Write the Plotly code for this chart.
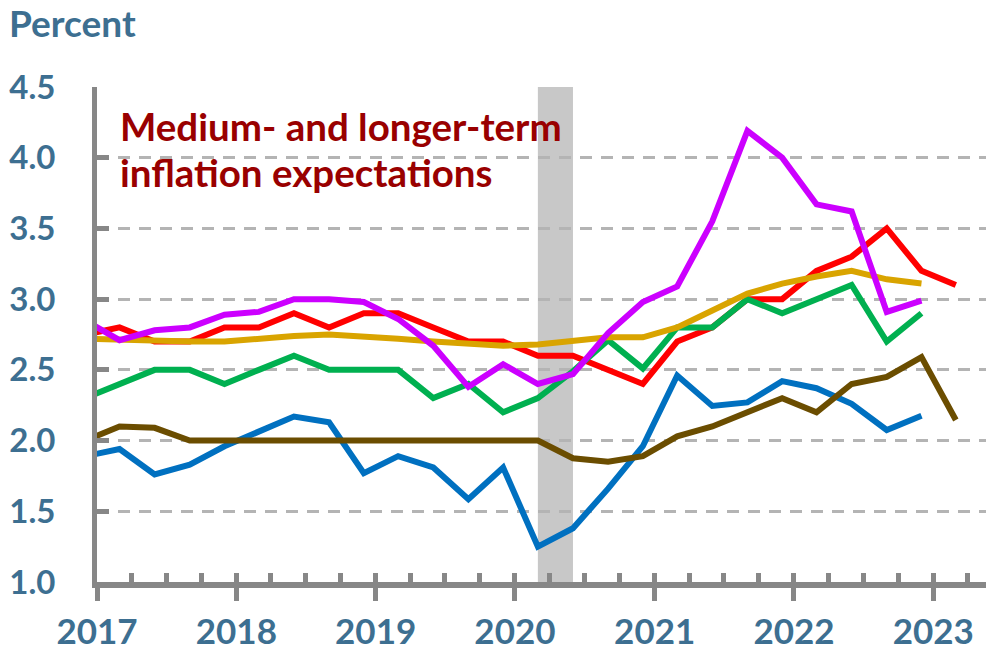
import plotly.graph_objects as go

# Quarterly observations (plotted at Mar, Jun, Sep, Dec), Dec 2016 .. Mar 2023
dates = ["2016-12-01",
         "2017-03-01", "2017-06-01", "2017-09-01", "2017-12-01",
         "2018-03-01", "2018-06-01", "2018-09-01", "2018-12-01",
         "2019-03-01", "2019-06-01", "2019-09-01", "2019-12-01",
         "2020-03-01", "2020-06-01", "2020-09-01", "2020-12-01",
         "2021-03-01", "2021-06-01", "2021-09-01", "2021-12-01",
         "2022-03-01", "2022-06-01", "2022-09-01", "2022-12-01",
         "2023-03-01"]

red = [2.75, 2.80, 2.70, 2.70, 2.80, 2.80, 2.90, 2.80, 2.90, 2.90, 2.80, 2.70, 2.70,
       2.60, 2.60, 2.50, 2.40, 2.70, 2.80, 3.00, 3.00, 3.20, 3.30, 3.50, 3.20, 3.10]
green = [2.30, 2.40, 2.50, 2.50, 2.40, 2.50, 2.60, 2.50, 2.50, 2.50, 2.30, 2.40, 2.20,
         2.30, 2.49, 2.71, 2.51, 2.80, 2.80, 3.00, 2.90, 3.00, 3.10, 2.70, 2.90]
gold = [2.72, 2.71, 2.70, 2.70, 2.70, 2.72, 2.74, 2.75, 2.74, 2.72, 2.70, 2.69, 2.67,
        2.68, 2.71, 2.73, 2.73, 2.80, 2.92, 3.04, 3.11, 3.16, 3.20, 3.14, 3.11]
blue = [1.89, 1.94, 1.76, 1.83, 1.96, 2.06, 2.17, 2.13, 1.77, 1.89, 1.81, 1.585, 1.81,
        1.25, 1.38, 1.66, 1.96, 2.46, 2.245, 2.27, 2.42, 2.37, 2.26, 2.075, 2.175]
brown = [2.00, 2.10, 2.09, 2.00, 2.00, 2.00, 2.00, 2.00, 2.01, 2.00, 2.00, 2.00, 2.00,
         2.00, 1.875, 1.85, 1.89, 2.03, 2.10, 2.20, 2.30, 2.20, 2.40, 2.45, 2.59, 2.145]
magenta = [2.85, 2.71, 2.78, 2.80, 2.89, 2.91, 3.00, 3.00, 2.98, 2.86, 2.67, 2.38, 2.54,
           2.40, 2.47, 2.76, 2.98, 3.09, 3.55, 4.19, 4.00, 3.67, 3.62, 2.91, 2.99]

year_ticks = ["2017-01-01", "2018-01-01", "2019-01-01", "2020-01-01",
              "2021-01-01", "2022-01-01", "2023-01-01"]
year_labels = ["2017", "2018", "2019", "2020", "2021", "2022", "2023"]
y_ticks = [1.0, 1.5, 2.0, 2.5, 3.0, 3.5, 4.0, 4.5]
y_labels = ["1.0", "1.5", "2.0", "2.5", "3.0", "3.5", "4.0", "4.5"]
recession = ["2020-03-01", "2020-06-01"]

LBL = "#3D6F91"
AX = "#878787"
FONT = "Lato"

series = [
    (red, "#FF0000"),
    (green, "#00B050"),
    (gold, "#D9A400"),
    (blue, "#0070C0"),
    (brown, "#6B4D00"),
    (magenta, "#CC00FF"),
]

fig = go.Figure()
for vals, col in series:
    fig.add_trace(go.Scatter(x=dates[:len(vals)], y=vals, mode="lines",
                             line=dict(color=col, width=6),
                             showlegend=False, hoverinfo="skip"))

xr = ["2017-01-01", "2023-06-09"]

fig.add_shape(type="rect", xref="x", yref="paper", x0=recession[0], x1=recession[1],
              y0=0, y1=1, fillcolor="#C8C8C8", line_width=0, layer="below")

# page body has an 8px margin, so the figure is 8px smaller and margins shifted
fig.update_layout(
    width=986, height=646,
    margin=dict(l=89, r=0, t=79, b=72),
    paper_bgcolor="white", plot_bgcolor="white",
    font=dict(family=FONT, color=LBL),
    xaxis=dict(type="date", range=xr, tickmode="array", tickvals=year_ticks,
               ticktext=year_labels, ticks="outside", ticklen=13, tickwidth=5,
               tickcolor=AX, showline=True, linecolor=AX, linewidth=6,
               showgrid=False, zeroline=False, ticklabelstandoff=1,
               automargin=False,
               tickfont=dict(family=FONT, size=35, color=LBL, weight=700)),
    xaxis2=dict(type="date", range=xr, overlaying="x", side="bottom",
                dtick="M3", tick0="2017-01-01", ticks="inside", ticklen=9,
                tickwidth=5, tickcolor=AX, showticklabels=False, showline=False,
                showgrid=False, zeroline=False, automargin=False),
    yaxis=dict(range=[1.0, 4.5], tickmode="array", tickvals=y_ticks, ticktext=y_labels,
               ticks="inside", ticklen=12, tickwidth=5, tickcolor=AX,
               showline=True, linecolor=AX, linewidth=5,
               showgrid=True, gridcolor="#B4B4B4", gridwidth=3, griddash="12px,9px",
               zeroline=False, ticklabelstandoff=30, automargin=False,
               tickfont=dict(family=FONT, size=33, color=LBL, weight=700)),
)

# dummy trace to show xaxis2 ticks
fig.add_trace(go.Scatter(x=[dates[1]], y=[None], xaxis="x2", mode="lines",
                         showlegend=False, hoverinfo="skip"))

PW, PH = 897, 495
fig.add_annotation(xref="paper", yref="paper", x=(0 - 89) / PW, y=(574 - 14) / PH,
                   xanchor="left", yanchor="middle", showarrow=False, borderpad=0,
                   text="Percent", font=dict(family=FONT, size=37, color=LBL, weight=700))
fig.add_annotation(xref="paper", yref="paper", x=(110 - 89) / PW, y=(574 - 118) / PH,
                   xanchor="left", yanchor="middle", showarrow=False,
                   text="Medium- and longer-term",
                   font=dict(family=FONT, size=38.5, color="#990000", weight=700))
fig.add_annotation(xref="paper", yref="paper", x=(110 - 89) / PW, y=(574 - 164) / PH,
                   xanchor="left", yanchor="middle", showarrow=False,
                   text="inflation expectations",
                   font=dict(family=FONT, size=38.5, color="#990000", weight=700))

fig.write_html("out.html")
